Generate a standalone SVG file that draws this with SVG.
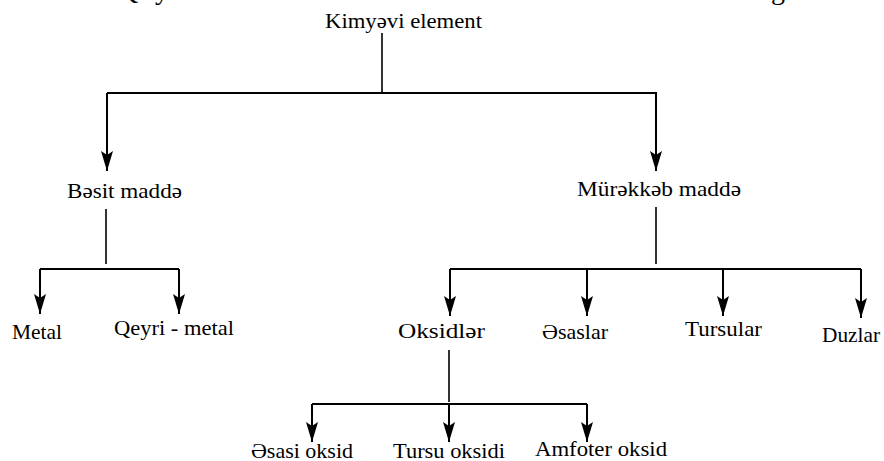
<svg xmlns="http://www.w3.org/2000/svg" width="884" height="461" viewBox="0 0 884 461">
<style>
text{font-family:'Liberation Serif','Times New Roman',serif;font-size:22px;fill:#000;text-anchor:middle}
.frag{font-size:28px}
.ln{stroke:#000;stroke-width:2;fill:none}
.thin{stroke:#000;stroke-width:1.6;fill:none}
.ar{stroke:#000;stroke-width:2;fill:none;marker-end:url(#ah)}
</style>
<defs>
<marker id="ah" viewBox="0 0 20 12" refX="20" refY="6" markerWidth="20" markerHeight="12" markerUnits="userSpaceOnUse" orient="auto">
<path d="M0,0 L20,6 L0,12 L4,6 z" fill="#000"/>
</marker>
</defs>
<g id="heading-fragments">
<text class="frag" x="128" y="-1">Q</text>
<text class="frag" x="162" y="-1">y</text>
<text class="frag" x="778" y="-1">g</text>
</g>
<g id="connectors">
<line class="thin" x1="382" y1="33" x2="382" y2="93"/>
<line class="ln" x1="107" y1="93" x2="657" y2="93"/>
<line class="ar" x1="107" y1="93" x2="107" y2="171"/>
<line class="ar" x1="656" y1="93" x2="656" y2="171"/>
<line class="thin" x1="106" y1="209" x2="106" y2="264"/>
<line class="ln" x1="40" y1="269" x2="179" y2="269"/>
<line class="ar" x1="40" y1="269" x2="40" y2="314"/>
<line class="ar" x1="179" y1="269" x2="179" y2="314"/>
<line class="thin" x1="656" y1="207" x2="656" y2="264"/>
<line class="ln" x1="450" y1="269" x2="861" y2="269"/>
<line class="ar" x1="450" y1="269" x2="450" y2="316"/>
<line class="ar" x1="587" y1="269" x2="587" y2="316"/>
<line class="ar" x1="723" y1="269" x2="723" y2="316"/>
<line class="ar" x1="861" y1="269" x2="861" y2="318"/>
<line class="thin" x1="449" y1="350" x2="449" y2="402"/>
<line class="ln" x1="312" y1="404" x2="587" y2="404"/>
<line class="ar" x1="312" y1="404" x2="312" y2="442"/>
<line class="ar" x1="449" y1="404" x2="449" y2="442"/>
<line class="ar" x1="587" y1="404" x2="587" y2="442"/>
</g>
<g id="kimyevi-element"><text x="403.5" y="28" textLength="157" lengthAdjust="spacingAndGlyphs">Kimyəvi element</text></g>
<g id="besit-madde"><text x="124.5" y="198" textLength="115" lengthAdjust="spacingAndGlyphs">Bəsit maddə</text></g>
<g id="murekkeb-madde"><text x="659" y="196" textLength="164" lengthAdjust="spacingAndGlyphs">Mürəkkəb maddə</text></g>
<g id="metal"><text x="37" y="339" textLength="50" lengthAdjust="spacingAndGlyphs">Metal</text></g>
<g id="qeyri-metal"><text x="174" y="335" textLength="120" lengthAdjust="spacingAndGlyphs">Qeyri - metal</text></g>
<g id="oksidler"><text x="441.5" y="338" textLength="87" lengthAdjust="spacingAndGlyphs">Oksidlər</text></g>
<g id="esaslar"><text x="575" y="339" textLength="66" lengthAdjust="spacingAndGlyphs">Əsaslar</text></g>
<g id="tursular"><text x="723.5" y="336" textLength="77" lengthAdjust="spacingAndGlyphs">Tursular</text></g>
<g id="duzlar"><text x="851" y="342" textLength="58" lengthAdjust="spacingAndGlyphs">Duzlar</text></g>
<g id="esasi-oksid"><text x="302" y="458">Əsasi oksid</text></g>
<g id="tursu-oksidi"><text x="449" y="458" textLength="112" lengthAdjust="spacingAndGlyphs">Tursu oksidi</text></g>
<g id="amfoter-oksid"><text x="601" y="456" textLength="132" lengthAdjust="spacingAndGlyphs">Amfoter oksid</text></g>
</svg>
